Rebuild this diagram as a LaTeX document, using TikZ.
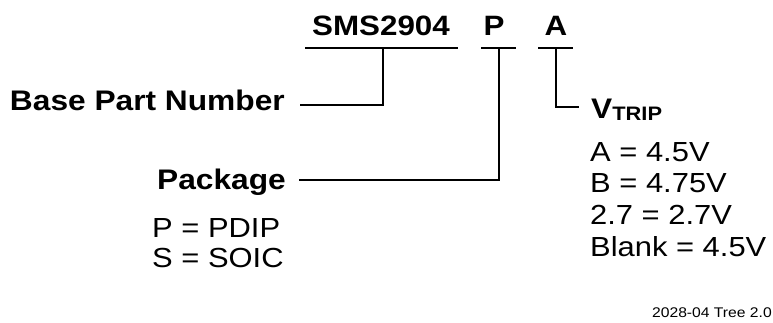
\documentclass[tikz,border=0pt]{standalone}
\usepackage{fontspec}
\setmainfont{Liberation Sans}[FakeStretch=1.12]
\usetikzlibrary{positioning}
\tikzset{
   every path/.style={line cap=rect},
   bar/.style={line width=1.7pt},
   lead/.style={line width=1.5pt},
   part/.style={font=\fontsize{28}{28}\selectfont\bfseries,inner sep=0pt,anchor=base},
   lbl/.style={font=\fontsize{28.3}{28}\selectfont\bfseries,inner sep=0pt},
   opt/.style={font=\fontsize{27.6}{28}\selectfont,inner sep=0pt,anchor=base west},
   tag/.style={font=\fontsize{14}{14}\selectfont,inner sep=0pt,anchor=base east}
 }
\newcommand{\sub}[1]{{\fontsize{19.5}{20}\selectfont\raisebox{-2pt}{#1}}}
\begin{document}
\begin{tikzpicture}[x=1pt,y=-1pt]
      \useasboundingbox (0,0) rectangle (773,322);
      % part number fields
      \node[part] (sms) at (381,35) {SMS2904};
      \node[part] (pkg) at (494,35) {P};
      \node[part] (vtr) at (556,35) {A};
      \coordinate (smsU) at (383,48);
      \coordinate (pkgU) at (499,48);
      \coordinate (vtrU) at (556,48);
      \draw[bar] (306,48) -- (457,48);
      \draw[bar] (482,48) -- (515,48);
      \draw[bar] (539,48) -- (572,48);

      % base part number
      \node[lbl,anchor=base east] (base) at (285,110) {Base Part Number};
      \coordinate (baseEnd) at (301,105);
      \draw[lead] (smsU) |- (baseEnd);

      % package
      \node[lbl,anchor=base east] (pack) at (286,189) {Package};
      \coordinate (packEnd) at (300,180);
      \draw[lead] (pkgU) |- (packEnd);
      \node[opt] (pdip) at (152,237) {P = PDIP};
      \node[opt] (soic) at (152,267) {S = SOIC};

      % trip voltage
      \node[lbl,anchor=base west] (trip) at (591,118) {V\sub{TRIP}};
      \coordinate (tripEnd) at (578,107);
      \draw[lead] (vtrU) |- (tripEnd);
      \node[opt] (va) at (590,161) {A = 4.5V};
      \node[opt] (vb) at (590,192) {B = 4.75V};
      \node[opt] (vc) at (590,224) {2.7 = 2.7V};
      \node[opt] (vd) at (590,256) {Blank = 4.5V};

      \node[tag] (rev) at (772,317) {2028-04 Tree 2.0};
    \end{tikzpicture}
\end{document}
